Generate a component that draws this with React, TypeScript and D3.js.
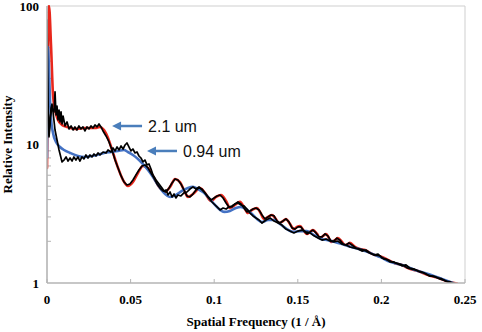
import React from "react";
import * as d3 from "d3";

// ---- data ----
const X_TICKS = [0, 0.05, 0.1, 0.15, 0.2, 0.25];
const X_TICK_LABELS = ["0", "0.05", "0.1", "0.15", "0.2", "0.25"];
const Y_TICKS = [1, 10, 100];
const Y_TICK_LABELS = ["1", "10", "100"];
const Y_MINOR = [2, 3, 4, 5, 6, 7, 8, 9, 20, 30, 40, 50, 60, 70, 80, 90];

// 2.1 um fit (red)
const fitA_f = [0, 0.0012, 0.0024, 0.0036, 0.0048, 0.0066, 0.009, 0.012, 0.0167, 0.0227, 0.0287, 0.0317, 0.0341, 0.0365, 0.0395, 0.0425, 0.0455, 0.0484, 0.0514, 0.0544, 0.0574, 0.0604, 0.064, 0.0676, 0.0706, 0.0736, 0.0766, 0.0795, 0.0825, 0.0843, 0.0873, 0.0915, 0.0945, 0.0981, 0.1011, 0.1041, 0.1071, 0.1094, 0.1124, 0.1154, 0.1178, 0.1202, 0.1226, 0.1256, 0.1274, 0.1298, 0.1322, 0.1346, 0.1364, 0.1388, 0.1411, 0.1429, 0.1453, 0.1477, 0.1495, 0.1513, 0.1537, 0.1555, 0.1573, 0.1591, 0.1615, 0.1633, 0.1651, 0.1669, 0.1686, 0.1698, 0.1722, 0.174, 0.1764, 0.1782, 0.18, 0.1812, 0.1842, 0.1872, 0.1902, 0.1932, 0.1962, 0.2003, 0.2039, 0.2081, 0.2123, 0.2159, 0.2219, 0.2279, 0.2338, 0.2398, 0.2452];
const fitA_v = [6.77, 100, 52.2, 22.7, 17.75, 15.04, 13.84, 13.39, 12.95, 13.16, 13.16, 13.39, 12.73, 11.15, 8.69, 6.77, 5.54, 5.02, 5.36, 6.23, 7.0, 6.77, 5.73, 4.85, 4.54, 4.94, 5.64, 5.36, 4.54, 4.18, 4.39, 4.85, 4.47, 3.91, 4.18, 4.32, 3.91, 3.48, 3.66, 3.85, 3.54, 3.2, 3.37, 3.48, 3.26, 2.9, 3.0, 3.1, 2.95, 2.71, 2.8, 2.9, 2.67, 2.45, 2.54, 2.58, 2.37, 2.26, 2.34, 2.41, 2.26, 2.11, 2.19, 2.26, 2.11, 1.98, 2.04, 2.11, 1.98, 1.88, 1.91, 1.95, 1.82, 1.76, 1.73, 1.65, 1.59, 1.54, 1.47, 1.39, 1.35, 1.28, 1.22, 1.14, 1.09, 1.02, 0.99];

// 0.94 um fit (blue)
const fitB_f = [0, 0.0006, 0.0012, 0.0018, 0.0024, 0.0036, 0.0054, 0.0078, 0.0102, 0.0138, 0.0185, 0.0227, 0.0269, 0.0299, 0.0341, 0.0383, 0.0425, 0.046, 0.0484, 0.0514, 0.0544, 0.0574, 0.0604, 0.0634, 0.0664, 0.0694, 0.0736, 0.0771, 0.0807, 0.0843, 0.0873, 0.0903, 0.0933, 0.0963, 0.0999, 0.1035, 0.1059, 0.1094, 0.113, 0.116, 0.119, 0.1226, 0.1256, 0.1286, 0.1322, 0.1358, 0.1393, 0.1435, 0.1471, 0.1513, 0.1555, 0.1597, 0.1639, 0.168, 0.1722, 0.1764, 0.18, 0.1842, 0.1884, 0.1932, 0.1962, 0.2003, 0.2039, 0.2081, 0.2123, 0.2201, 0.2279, 0.2362, 0.2428];
const fitB_v = [8.13, 50.5, 34.4, 20.96, 15.5, 12.11, 10.43, 9.6, 9.13, 8.69, 8.26, 8.13, 8.26, 8.4, 8.69, 8.83, 8.98, 9.13, 8.83, 8.4, 7.86, 7.23, 6.55, 5.83, 5.1, 4.54, 4.18, 4.32, 4.62, 4.85, 4.94, 4.77, 4.54, 4.18, 3.72, 3.37, 3.26, 3.31, 3.48, 3.54, 3.42, 3.15, 2.9, 2.76, 2.85, 2.85, 2.67, 2.45, 2.34, 2.37, 2.37, 2.22, 2.08, 2.04, 1.98, 1.91, 1.85, 1.79, 1.73, 1.65, 1.59, 1.52, 1.44, 1.39, 1.35, 1.24, 1.16, 1.07, 1.0];

// 0.94 um measured (black)
const dataB_f = [0, 0.0006, 0.0012, 0.0018, 0.0024, 0.003, 0.0036, 0.0048, 0.006, 0.0072, 0.0084, 0.009, 0.0102, 0.0114, 0.0126, 0.0138, 0.015, 0.0161, 0.0173, 0.0185, 0.0197, 0.0209, 0.0221, 0.0233, 0.0245, 0.0257, 0.0269, 0.0281, 0.0293, 0.0305, 0.0317, 0.0335, 0.0353, 0.0365, 0.0383, 0.0395, 0.0407, 0.0419, 0.0431, 0.0443, 0.0455, 0.0467, 0.0478, 0.049, 0.0502, 0.0514, 0.0526, 0.0538, 0.055, 0.0562, 0.0574, 0.0586, 0.0598, 0.061, 0.0622, 0.0634, 0.0652, 0.067, 0.0688, 0.07, 0.0712, 0.0724, 0.0736, 0.0748, 0.076, 0.0771, 0.0783, 0.0801, 0.0819, 0.0837, 0.0855, 0.0873, 0.0891, 0.0909, 0.0927, 0.0945, 0.0963, 0.0981, 0.0999, 0.1017, 0.1035, 0.1053, 0.1071, 0.1088, 0.1106, 0.1124, 0.1142, 0.116, 0.1178, 0.1196, 0.1214, 0.1232, 0.125, 0.1268, 0.1286, 0.131, 0.1334, 0.1358, 0.1382, 0.1405, 0.1429, 0.1453, 0.1477, 0.1501, 0.1525, 0.1549, 0.1573, 0.1597, 0.1621, 0.1645, 0.1669, 0.1693, 0.1716, 0.174, 0.1764, 0.1788, 0.1812, 0.1836, 0.186, 0.1884, 0.1908, 0.1932, 0.1956, 0.198, 0.2003, 0.2027, 0.2051, 0.2075, 0.2099, 0.2123, 0.2147, 0.2171, 0.2195, 0.2219, 0.2243, 0.2267, 0.2291, 0.2315, 0.2338, 0.2362, 0.2386, 0.241, 0.2434];
const dataB_v = [79.2, 20.96, 11.33, 13.84, 18.3, 19.6, 17.2, 12.73, 10.78, 9.13, 7.99, 7.48, 7.73, 8.13, 7.6, 7.99, 7.6, 8.13, 7.73, 8.13, 7.6, 8.13, 7.86, 8.4, 7.99, 8.4, 8.13, 8.54, 8.26, 8.69, 8.4, 8.83, 8.69, 9.13, 8.83, 9.44, 8.98, 9.6, 9.13, 9.76, 9.28, 9.92, 10.26, 9.6, 8.98, 9.28, 8.69, 8.83, 8.26, 7.99, 7.48, 7.73, 7.12, 7.23, 6.66, 6.03, 5.54, 5.19, 4.85, 4.62, 4.7, 4.32, 4.54, 4.18, 4.39, 4.11, 4.32, 4.25, 4.47, 4.54, 4.77, 4.94, 4.77, 4.94, 4.7, 4.47, 4.18, 3.91, 3.72, 3.54, 3.37, 3.48, 3.42, 3.54, 3.6, 3.72, 3.78, 3.66, 3.6, 3.42, 3.2, 3.05, 2.95, 2.85, 2.71, 2.85, 2.95, 2.8, 2.71, 2.62, 2.45, 2.37, 2.3, 2.37, 2.41, 2.34, 2.3, 2.19, 2.11, 2.04, 2.08, 2.01, 1.98, 2.01, 1.91, 1.88, 1.82, 1.79, 1.76, 1.7, 1.73, 1.65, 1.59, 1.62, 1.52, 1.49, 1.42, 1.42, 1.37, 1.33, 1.35, 1.28, 1.26, 1.22, 1.2, 1.16, 1.12, 1.12, 1.09, 1.07, 1.03, 1.02, 0.99];

// 2.1 um measured (black)
const dataA_f = [0, 0.0006, 0.0012, 0.0018, 0.003, 0.0042, 0.0048, 0.0054, 0.006, 0.0066, 0.0072, 0.0078, 0.0084, 0.009, 0.0096, 0.0108, 0.012, 0.0132, 0.0144, 0.0156, 0.0167, 0.0179, 0.0191, 0.0203, 0.0215, 0.0227, 0.0239, 0.0251, 0.0263, 0.0275, 0.0287, 0.0299, 0.0311, 0.0323, 0.0335, 0.0353, 0.0371, 0.0389, 0.0407, 0.0425, 0.0443, 0.0461, 0.0478, 0.0496, 0.0514, 0.0532, 0.055, 0.0568, 0.0586, 0.0604, 0.0622, 0.064, 0.0658, 0.0676, 0.0694, 0.0712, 0.073, 0.0748, 0.0766, 0.0783, 0.0801, 0.0819, 0.0837, 0.0855, 0.0873, 0.0891, 0.0909, 0.0927, 0.0945, 0.0963, 0.0981, 0.0999, 0.1017, 0.1035, 0.1053, 0.1071, 0.1088, 0.1106, 0.1124, 0.1142, 0.116, 0.1178, 0.1196, 0.1214, 0.1232, 0.125, 0.1268, 0.1286, 0.1304, 0.1322, 0.134, 0.1358, 0.1376, 0.1393, 0.1411, 0.1429, 0.1447, 0.1465, 0.1483, 0.1501, 0.1519, 0.1537, 0.1555, 0.1573, 0.1591, 0.1609, 0.1627, 0.1645, 0.1663, 0.168, 0.1698, 0.1716, 0.1734, 0.1752, 0.177, 0.1788, 0.1806, 0.1824, 0.1848, 0.1872, 0.1896, 0.192, 0.1944, 0.1968, 0.1992, 0.2015, 0.2039, 0.2063, 0.2087, 0.2111, 0.2135, 0.2159, 0.2183, 0.2207, 0.2231, 0.2255, 0.2279, 0.2303, 0.2327, 0.235, 0.2374, 0.2398, 0.2422, 0.244];
const dataA_v = [40.7, 15.04, 11.72, 15.55, 18.3, 17.2, 24.0, 16.33, 18.9, 15.04, 17.75, 14.55, 17.2, 14.07, 16.06, 13.61, 14.55, 12.95, 13.61, 12.73, 13.39, 12.73, 13.61, 12.95, 13.39, 12.52, 13.39, 12.95, 13.61, 13.16, 13.84, 13.39, 14.07, 13.39, 12.52, 11.52, 10.43, 9.13, 7.73, 6.77, 5.93, 5.36, 5.1, 5.19, 5.54, 6.03, 6.55, 7.0, 7.12, 6.77, 6.23, 5.73, 5.19, 4.85, 4.62, 4.54, 4.85, 5.28, 5.64, 5.54, 5.19, 4.7, 4.25, 4.18, 4.39, 4.7, 4.85, 4.77, 4.47, 4.18, 3.98, 4.11, 4.25, 4.32, 4.11, 3.78, 3.54, 3.54, 3.72, 3.85, 3.72, 3.48, 3.26, 3.31, 3.42, 3.48, 3.37, 3.1, 2.9, 3.0, 3.1, 3.05, 2.8, 2.71, 2.8, 2.9, 2.76, 2.5, 2.45, 2.54, 2.54, 2.37, 2.26, 2.34, 2.41, 2.3, 2.15, 2.15, 2.26, 2.19, 2.01, 2.01, 2.11, 2.04, 1.91, 1.88, 1.95, 1.88, 1.79, 1.76, 1.73, 1.67, 1.62, 1.59, 1.57, 1.49, 1.47, 1.42, 1.39, 1.37, 1.33, 1.28, 1.26, 1.24, 1.2, 1.18, 1.14, 1.12, 1.1, 1.07, 1.05, 1.02, 1.0, 0.99];

const ANNOTATIONS = [
  { label: "2.1 um", f: 0.0389, v: 13.6 },
  { label: "0.94 um", f: 0.0598, v: 8.98 },
];

const W = 482;
const H = 332;
const M = { left: 47, right: 465, top: 6, bottom: 283 };

const SERIF = "'Liberation Serif', 'Times New Roman', serif";
const SANS = "'Liberation Sans', Arial, Helvetica, sans-serif";

export default function App() {
  const x = d3.scaleLinear().domain([0, 0.25]).range([M.left, M.right]);
  const y = d3.scaleLog().domain([1, 100]).range([M.bottom, M.top]);

  const mk = (fs: number[], vs: number[], smooth: boolean) => {
    const pts = fs.map((f, i) => [f, vs[i]] as [number, number]);
    const gen = d3
      .line<[number, number]>()
      .x((d) => x(d[0]))
      .y((d) => y(d[1]));
    if (smooth) gen.curve(d3.curveMonotoneX);
    return gen(pts) || "";
  };

  const axisColor = "#b4b4b4";
  const borderColor = "#cfcfcf";

  return (
    <svg
      width={W}
      height={H}
      style={{ position: "absolute", left: 0, top: 0, background: "#fff" }}
    >
      <defs>
        <clipPath id="plot">
          <rect x={M.left} y={M.top - 1} width={M.right - M.left} height={M.bottom - M.top + 1} />
        </clipPath>
      </defs>
      {/* plot border */}
      <line x1={M.left} x2={M.right} y1={M.top} y2={M.top} stroke={borderColor} strokeWidth={1} />
      <line x1={M.right} x2={M.right} y1={M.top} y2={M.bottom} stroke={borderColor} strokeWidth={1} />

      {/* y minor ticks */}
      {Y_MINOR.map((v) => (
        <line key={"m" + v} x1={M.left} x2={M.left + 4} y1={y(v)} y2={y(v)} stroke={axisColor} strokeWidth={1} />
      ))}
      {/* x ticks */}
      {X_TICKS.map((t) => (
        <line key={"xt" + t} x1={x(t)} x2={x(t)} y1={M.bottom} y2={M.bottom - 4} stroke={axisColor} strokeWidth={1} />
      ))}

      {/* series */}
      <g clipPath="url(#plot)" fill="none" strokeLinejoin="round" strokeLinecap="round">
        <path d={mk(fitA_f, fitA_v, true)} stroke="#e8271c" strokeWidth={2.6} />
        <path d={mk(fitB_f, fitB_v, true)} stroke="#4472c4" strokeWidth={2.6} />
        <path d={mk(dataB_f, dataB_v, false)} stroke="#000" strokeWidth={1.7} />
        <path d={mk(dataA_f, dataA_v, false)} stroke="#000" strokeWidth={1.7} />
      </g>

      {/* axes */}
      <line x1={M.left} x2={M.left} y1={M.top} y2={M.bottom} stroke={axisColor} strokeWidth={1.6} />
      <line x1={M.left} x2={M.right} y1={M.bottom} y2={M.bottom} stroke={axisColor} strokeWidth={1.6} />

      {/* tick labels */}
      {Y_TICKS.map((t, i) => (
        <text key={"yl" + t} x={M.left - 8} y={y(t) + 4.5} textAnchor="end" fontFamily={SERIF} fontWeight="bold" fontSize={13}>
          {Y_TICK_LABELS[i]}
        </text>
      ))}
      {X_TICKS.map((t, i) => (
        <text key={"xl" + t} x={x(t)} y={304} textAnchor="middle" fontFamily={SERIF} fontWeight="bold" fontSize={13}>
          {X_TICK_LABELS[i]}
        </text>
      ))}

      {/* axis titles */}
      <text x={(M.left + M.right) / 2} y={326} textAnchor="middle" fontFamily={SERIF} fontWeight="bold" fontSize={13}>
        Spatial Frequency (1 / Å)
      </text>
      <text transform={`translate(12, ${(M.top + M.bottom) / 2}) rotate(-90)`} textAnchor="middle" fontFamily={SERIF} fontWeight="bold" fontSize={13}>
        Relative Intensity
      </text>

      {/* annotations */}
      {ANNOTATIONS.map((a) => {
        const tipX = x(a.f);
        const tipY = y(a.v);
        const tailX = tipX + 30;
        return (
          <g key={a.label}>
            <line x1={tipX + 7} x2={tailX} y1={tipY} y2={tipY} stroke="#4a7ebb" strokeWidth={2.5} />
            <path d={`M${tipX},${tipY} L${tipX + 9},${tipY - 4.5} L${tipX + 9},${tipY + 4.5} Z`} fill="#4a7ebb" />
            <text x={tailX + 6} y={tipY + 6} fontFamily={SANS} fontSize={16} fill="#111">
              {a.label}
            </text>
          </g>
        );
      })}
    </svg>
  );
}
